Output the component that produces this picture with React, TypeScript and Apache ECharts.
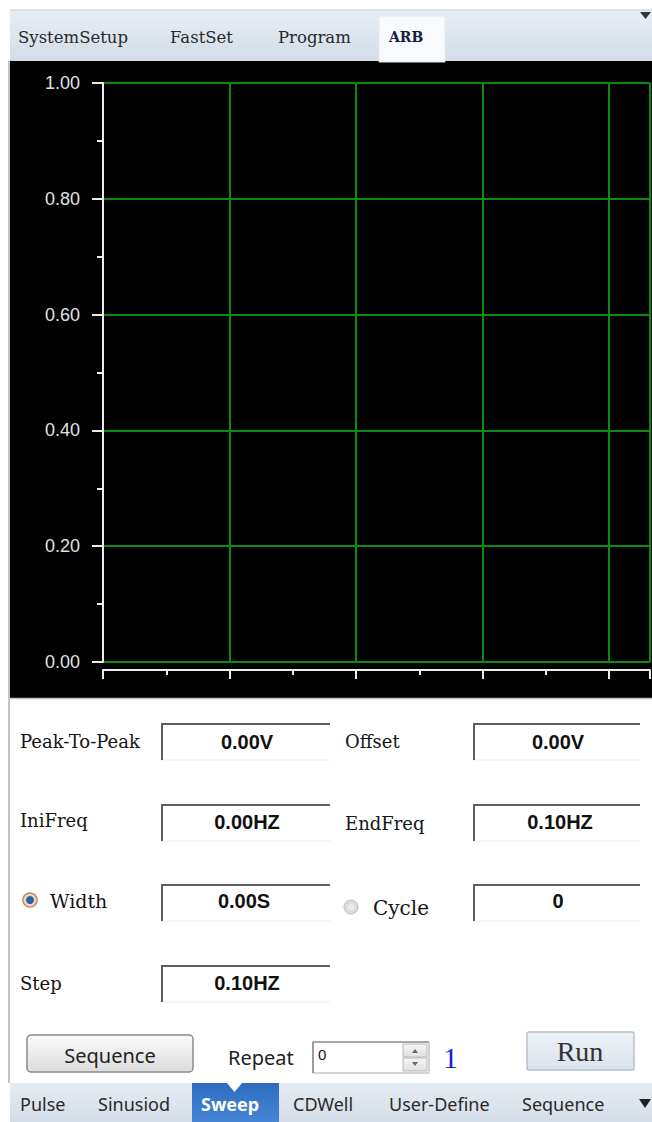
import React, { useEffect, useRef } from "react";
import * as echarts from "echarts";

// ---- data ----
const yMin = 0;
const yMax = 1;
const yInterval = 0.2;
const xMin = 0;
const xMax = 4.324;
const xInterval = 1;
const waveform: [number, number][] = [];

const topTabs = ["SystemSetup", "FastSet", "Program", "ARB"];
const activeTopTab = "ARB";
const bottomTabs = ["Pulse", "Sinusiod", "Sweep", "CDWell", "User-Define", "Sequence"];
const activeBottomTab = "Sweep";
const fieldLabels = ["Peak-To-Peak", "Offset", "IniFreq", "EndFreq", "Width", "Cycle", "Step"];
const fieldValues = ["0.00V", "0.00V", "0.00HZ", "0.10HZ", "0.00S", "0", "0.10HZ"];
const buttonLabels = ["Sequence", "Run"];
const repeatLabel = "Repeat";
const repeatValue = "0";
const repeatCount = "1";

// ---- layout (styles/positions only) ----
const MONO = "'DejaVu Serif', 'Liberation Serif', serif";
const SANS = "'Liberation Sans', Arial, sans-serif";
const NOTO = "'Noto Sans', 'Liberation Sans', sans-serif";
const SERIF = "'Liberation Serif', 'DejaVu Serif', serif";

const topTabX = [18, 170, 278, 389];
const bottomTabX = [20, 98, 201, 293, 389, 522];

// label positions [x, y, fontSize]
const labelPos: [number, number, number][] = [
  [20, 741, 18], [345, 741, 18], [20, 820, 18], [345, 823, 18],
  [50, 901, 19], [373, 908, 20], [20, 983, 18],
];
// value box [x, y, w], value center [cx, cy]
const boxPos: [number, number, number][] = [
  [162, 724, 168], [474, 724, 166], [162, 805, 168], [474, 805, 166],
  [162, 885, 168], [474, 885, 166], [162, 966, 168],
];
const valuePos: [number, number][] = [
  [247, 742], [558, 742], [247, 822], [560, 822], [244, 901], [558, 901], [247, 983],
];

function lin(c0: string, c1: string) {
  return { type: "linear", x: 0, y: 0, x2: 0, y2: 1, colorStops: [{ offset: 0, color: c0 }, { offset: 1, color: c1 }] };
}

function buildGraphic(): any[] {
  const g: any[] = [];
  // top tab bar
  g.push({ type: "rect", z: -100, shape: { x: 10, y: 10, width: 642, height: 52 }, style: { fill: lin("#e8eef5", "#d2dce7") } });
  g.push({ type: "line", z: -99, shape: { x1: 10, y1: 10, x2: 652, y2: 10 }, style: { stroke: "#c3ccd6", lineWidth: 1 } });
  g.push({ type: "rect", z: -99, shape: { x: 379, y: 16, width: 66, height: 46 }, style: { fill: "#f8fafd", stroke: "#e2e8ef", lineWidth: 1 } });
  topTabs.forEach((t, i) => {
    const active = t === activeTopTab;
    g.push({
      type: "text", z: 100, x: topTabX[i], y: 37,
      style: { text: t, fill: active ? "#102040" : "#2a2a2a", fontSize: active ? 14 : 16.5, fontFamily: MONO, fontWeight: active ? "bold" : "normal", textAlign: "left", textVerticalAlign: "middle" },
    });
  });
  g.push({ type: "polygon", z: 100, shape: { points: [[640, 12], [651, 12], [645.5, 19]] }, style: { fill: "#333" } });

  // black plot panel
  g.push({ type: "rect", z: -100, shape: { x: 10, y: 61, width: 642, height: 637 }, style: { fill: "#000" } });
  g.push({ type: "line", z: -99, shape: { x1: 10, y1: 698.5, x2: 652, y2: 698.5 }, style: { stroke: "#c4c4c4", lineWidth: 1.5 } });
  g.push({ type: "line", z: -99, shape: { x1: 9, y1: 61, x2: 9, y2: 1083 }, style: { stroke: "#b0b0b0", lineWidth: 1.5 } });

  // form labels
  fieldLabels.forEach((t, i) => {
    const [x, y, fs] = labelPos[i];
    g.push({ type: "text", z: 100, x, y, style: { text: t, fill: "#141414", fontSize: fs, fontFamily: MONO, textAlign: "left", textVerticalAlign: "middle" } });
  });
  // value boxes
  boxPos.forEach(([x, y, w]) => {
    g.push({ type: "polyline", z: 100, shape: { points: [[x + w, y + 36], [x, y + 36]] }, style: { stroke: "#ececec", lineWidth: 1, fill: null } });
    g.push({ type: "polyline", z: 100, shape: { points: [[x, y + 36], [x, y], [x + w, y]] }, style: { stroke: "#5e5e5e", lineWidth: 2, fill: null } });
  });
  fieldValues.forEach((t, i) => {
    const [x, y] = valuePos[i];
    g.push({ type: "text", z: 100, x, y, style: { text: t, fill: "#111", fontSize: 20, fontWeight: "bold", fontFamily: SANS, textAlign: "center", textVerticalAlign: "middle" } });
  });
  // radios
  g.push({ type: "circle", z: 100, shape: { cx: 30, cy: 900, r: 7 }, style: { fill: "#e9d6c8", stroke: "#c98a5c", lineWidth: 1.5 } });
  g.push({ type: "circle", z: 101, shape: { cx: 30, cy: 900, r: 4 }, style: { fill: "#2c5f9e" } });
  g.push({ type: "circle", z: 100, shape: { cx: 351, cy: 907, r: 7 }, style: { fill: "#dcdcdc", stroke: "#c0c0c0", lineWidth: 1 } });
  g.push({ type: "circle", z: 101, shape: { cx: 351, cy: 907, r: 3.5 }, style: { fill: "#ececec" } });

  // Sequence button
  g.push({ type: "rect", z: 100, shape: { x: 27, y: 1035, width: 166, height: 37, r: 4 }, style: { fill: lin("#fbfbfb", "#dcdcdc"), stroke: "#8a8a8a", lineWidth: 1.5 } });
  g.push({ type: "text", z: 101, x: 110, y: 1055, style: { text: buttonLabels[0], fill: "#222", fontSize: 20, fontFamily: NOTO, textAlign: "center", textVerticalAlign: "middle" } });
  // Repeat
  g.push({ type: "text", z: 100, x: 228, y: 1057, style: { text: repeatLabel, fill: "#222", fontSize: 20, fontFamily: NOTO, textAlign: "left", textVerticalAlign: "middle" } });
  g.push({ type: "rect", z: 100, shape: { x: 313, y: 1042, width: 116, height: 31 }, style: { fill: "#fff", stroke: "#a8a8a8", lineWidth: 1 } });
  g.push({ type: "polyline", z: 101, shape: { points: [[313, 1073], [313, 1042], [429, 1042]] }, style: { stroke: "#7a7a7a", lineWidth: 1.2, fill: null } });
  g.push({ type: "text", z: 101, x: 318, y: 1054, style: { text: repeatValue, fill: "#111", fontSize: 15, fontFamily: SANS, textAlign: "left", textVerticalAlign: "middle" } });
  g.push({ type: "rect", z: 101, shape: { x: 403, y: 1044, width: 24, height: 13 }, style: { fill: lin("#f6f6f6", "#e0e0e0"), stroke: "#b8b8b8", lineWidth: 1 } });
  g.push({ type: "rect", z: 101, shape: { x: 403, y: 1058, width: 24, height: 13 }, style: { fill: lin("#f6f6f6", "#e0e0e0"), stroke: "#b8b8b8", lineWidth: 1 } });
  g.push({ type: "polygon", z: 102, shape: { points: [[412, 1053], [418, 1053], [415, 1049]] }, style: { fill: "#666" } });
  g.push({ type: "polygon", z: 102, shape: { points: [[412, 1062], [418, 1062], [415, 1066]] }, style: { fill: "#666" } });
  g.push({ type: "text", z: 100, x: 443, y: 1057, style: { text: repeatCount, fill: "#1c1ce0", fontSize: 30, fontFamily: SERIF, textAlign: "left", textVerticalAlign: "middle" } });
  // Run button
  g.push({ type: "rect", z: 100, shape: { x: 527, y: 1032, width: 107, height: 38, r: 2 }, style: { fill: lin("#eef2f7", "#dae2ec"), stroke: "#b6c1ce", lineWidth: 1.5 } });
  g.push({ type: "text", z: 101, x: 580, y: 1051, style: { text: buttonLabels[1], fill: "#333", fontSize: 28, fontFamily: SERIF, textAlign: "center", textVerticalAlign: "middle" } });

  // bottom tab bar
  g.push({ type: "rect", z: -100, shape: { x: 10, y: 1083, width: 642, height: 39 }, style: { fill: lin("#e6ecf2", "#d4dde7") } });
  g.push({ type: "rect", z: -99, shape: { x: 192, y: 1083, width: 87, height: 39 }, style: { fill: lin("#2d6cc0", "#4585d4") } });
  g.push({ type: "polygon", z: -98, shape: { points: [[227, 1083], [242, 1083], [234.5, 1092]] }, style: { fill: "#ffffff" } });
  bottomTabs.forEach((t, i) => {
    const active = t === activeBottomTab;
    g.push({
      type: "text", z: 100, x: bottomTabX[i], y: 1104,
      style: { text: t, fill: active ? "#ffffff" : "#2a2a2a", fontSize: 18, fontWeight: active ? "bold" : "normal", fontFamily: NOTO, textAlign: "left", textVerticalAlign: "middle" },
    });
  });
  g.push({ type: "polygon", z: 100, shape: { points: [[639, 1099], [651, 1099], [645, 1108]] }, style: { fill: "#222" } });
  return g;
}

export default function App() {
  const ref = useRef<HTMLDivElement>(null);
  useEffect(() => {
    if (!ref.current) return;
    const chart = echarts.init(ref.current, null, { renderer: "svg" });
    const white = "#ececec";
    const green = "#0b8c0b";
    chart.setOption({
      animation: false,
      backgroundColor: "#ffffff",
      grid: { left: 103, top: 83, width: 547, height: 579, show: false },
      xAxis: {
        type: "value", min: xMin, max: xMax, interval: xInterval, offset: 8,
        axisLine: { show: true, onZero: false, lineStyle: { color: white, width: 2 } },
        axisTick: { show: true, length: 9, lineStyle: { color: white, width: 2 } },
        minorTick: { show: true, splitNumber: 2, length: 5, lineStyle: { color: white, width: 2 } },
        axisLabel: { show: false },
        splitLine: { show: true, lineStyle: { color: green, width: 2 } },
      },
      yAxis: {
        type: "value", min: yMin, max: yMax, interval: yInterval, offset: 7,
        axisLine: { show: true, lineStyle: { color: white, width: 2 } },
        axisTick: { show: true, length: 11, lineStyle: { color: white, width: 2 } },
        minorTick: { show: true, splitNumber: 2, length: 6, lineStyle: { color: white, width: 2 } },
        axisLabel: { show: true, margin: 16, color: "#e2e2e2", fontSize: 18, fontFamily: SANS, formatter: (v: number) => v.toFixed(2) },
        splitLine: { show: true, lineStyle: { color: green, width: 2 } },
      },
      series: [{ type: "line", data: waveform, showSymbol: false, lineStyle: { color: "#ffff00" } }],
      graphic: buildGraphic(),
    });
    return () => chart.dispose();
  }, []);
  return <div ref={ref} style={{ position: "absolute", left: 0, top: 0, width: 652, height: 1122 }} />;
}
